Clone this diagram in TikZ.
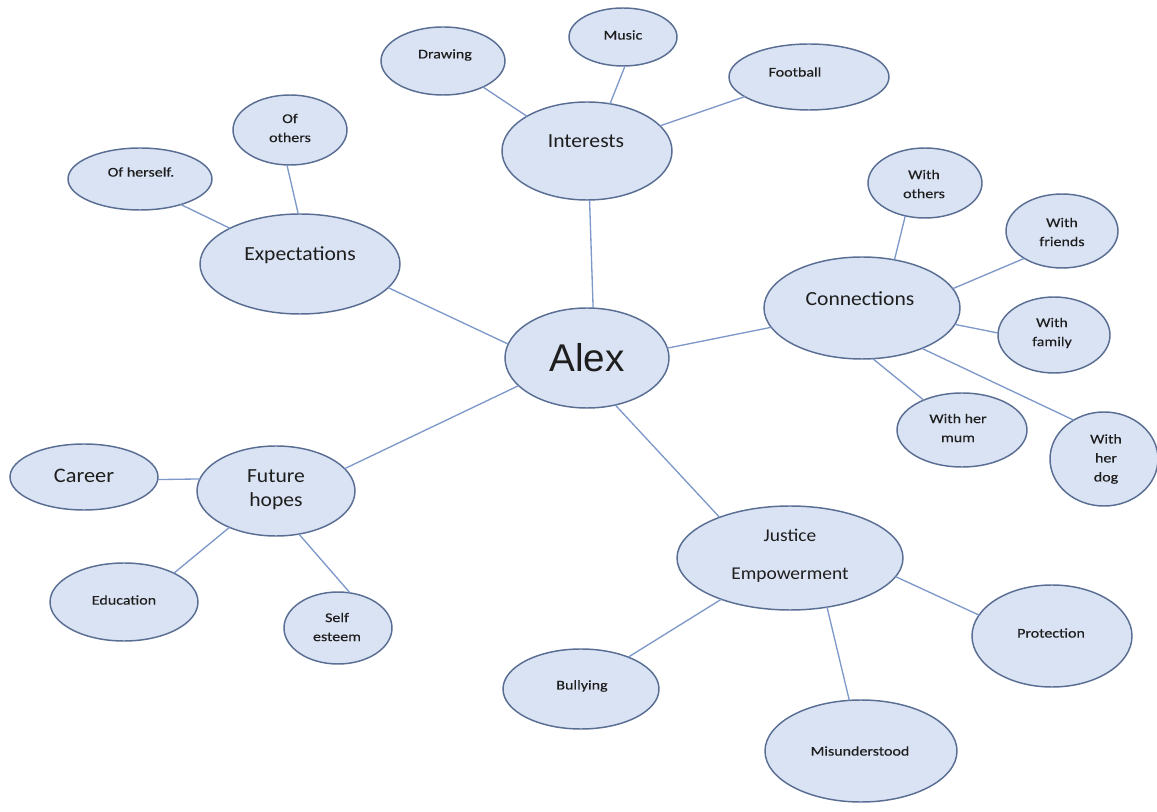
\documentclass[tikz,border=0pt]{standalone}
\usepackage{fontspec}
\setmainfont{Carlito}
\newfontfamily\alexfont{Liberation Sans}
\newfontfamily\smallfont[FakeStretch=1.2,FakeBold=0.3]{Carlito}
\newfontfamily\midfont[FakeStretch=1.08]{Carlito}
\definecolor{bubfill}{HTML}{DAE3F3}
\definecolor{bubline}{HTML}{5A6E94}
\definecolor{linkcol}{HTML}{7D98C9}
\definecolor{inkcol}{HTML}{1E1E1E}
\usetikzlibrary{shapes.geometric}
\begin{document}
\begin{tikzpicture}[x=0.75pt,y=-0.75pt,
  bub/.style 2 args={ellipse,draw=bubline,fill=bubfill,line width=1.1pt,
    inner sep=0pt,outer sep=0pt,minimum width=#1*1.5pt,minimum height=#2*1.5pt},
  small/.style={text=inkcol,align=center,font=\smallfont\fontsize{10}{14.25}\selectfont},
  mid/.style={text=inkcol,align=center,font=\midfont\fontsize{15}{18}\selectfont},
  link/.style={draw=linkcol,line width=1pt}]
\useasboundingbox (0,0) rectangle (1157,812);

% bubbles
\node[bub={82}{50}] (alex) at (587,358) {};
\node[bub={85}{49}] (interests) at (587,151) {};
\node[bub={62}{34}] (drawing) at (443,61) {};
\node[bub={54}{29}] (music) at (623,37) {};
\node[bub={80}{33}] (football) at (809,77) {};
\node[bub={100}{50}] (expect) at (300,264) {};
\node[bub={57}{35}] (ofothers) at (290,130) {};
\node[bub={72}{31}] (ofherself) at (140,179) {};
\node[bub={98}{51}] (conn) at (862,308) {};
\node[bub={57}{35}] (withothers) at (925,183) {};
\node[bub={56}{37}] (withfriends) at (1062,231) {};
\node[bub={56}{38}] (withfamily) at (1054,335) {};
\node[bub={65}{37}] (withmum) at (962,430) {};
\node[bub={54}{47}] (withdog) at (1104,459) {};
\node[bub={79}{45}] (future) at (276,491) {};
\node[bub={74}{33}] (career) at (84,477) {};
\node[bub={74}{39}] (education) at (124,602) {};
\node[bub={54}{36}] (selfesteem) at (338,628) {};
\node[bub={113}{52}] (justice) at (790,558) {};
\node[bub={78}{40}] (bullying) at (581,689) {};
\node[bub={96}{51}] (misunder) at (861,751) {};
\node[bub={80}{51}] (protection) at (1052,636) {};

% labels
\node[text=inkcol,font=\alexfont\fontsize{29}{32}\selectfont] (alext) at (587,358) {Alex};
\node[mid] (interestst) at (586,141) {Interests};
\node[small] (drawingt) at (445,55) {Drawing};
\node[small] (musict) at (623,35) {Music};
\node[small] (footballt) at (795,72) {Football};
\node[mid] (expectt) at (300,255) {Expectations};
\node[small] (ofotherst) at (290,128) {Of\\others};
\node[small] (ofherselft) at (141,172) {Of herself.};
\node[mid] (connt) at (860,299) {Connections};
\node[small] (withotherst) at (924,184) {With\\others};
\node[small] (withfriendst) at (1062,232) {With\\friends};
\node[small] (withfamilyt) at (1052,333) {With\\family};
\node[small] (withmumt) at (958,428) {With her\\mum};
\node[small] (withdogt) at (1106,459) {With\\her\\dog};
\node[mid] (futuret) at (276,490) {Future\\hopes};
\node[mid,font=\midfont\fontsize{15.5}{18}\selectfont] (careert) at (84,476) {Career};
\node[small] (educationt) at (124,600) {Education};
\node[small] (selfesteemt) at (337,627) {Self\\esteem};
\node[mid,font=\midfont\fontsize{13.5}{28.5}\selectfont] (justicet) at (790,556) {Justice\\Empowerment};
\node[small] (bullyingt) at (582,686) {Bullying};
\node[small] (misundert) at (860,751) {Misunderstood};
\node[small] (protectiont) at (1051,633) {Protection};

% connectors
\draw[link] (alex.83) -- (interests.273);
\draw[link] (alex.170) -- (expect.345);
\draw[link] (alex.7) -- (conn.192);
\draw[link] (alex.202) -- (future.18);
\draw[link] (alex.301) -- (justice.150);
\draw[link] (interests.150) -- (drawing.327);
\draw[link] (interests.64) -- (music.274);
\draw[link] (interests.19) -- (football.197);
\draw[link] (expect.92) -- (ofothers.265);
\draw[link] (expect.153) -- (ofherself.328);
\draw[link] (conn.56) -- (withothers.239);
\draw[link] (conn.12) -- (withfriends.216);
\draw[link] (conn.350) -- (withfamily.178);
\draw[link] (conn.282) -- (withmum.142);
\draw[link] (conn.326) -- (withdog.128);
\draw[link] (future.171) -- (career.358);
\draw[link] (future.218) -- (education.30);
\draw[link] (future.298) -- (selfesteem.71);
\draw[link] (justice.211) -- (bullying.34);
\draw[link] (justice.307) -- (misunder.103);
\draw[link] (justice.350) -- (protection.164);
\end{tikzpicture}
\end{document}
